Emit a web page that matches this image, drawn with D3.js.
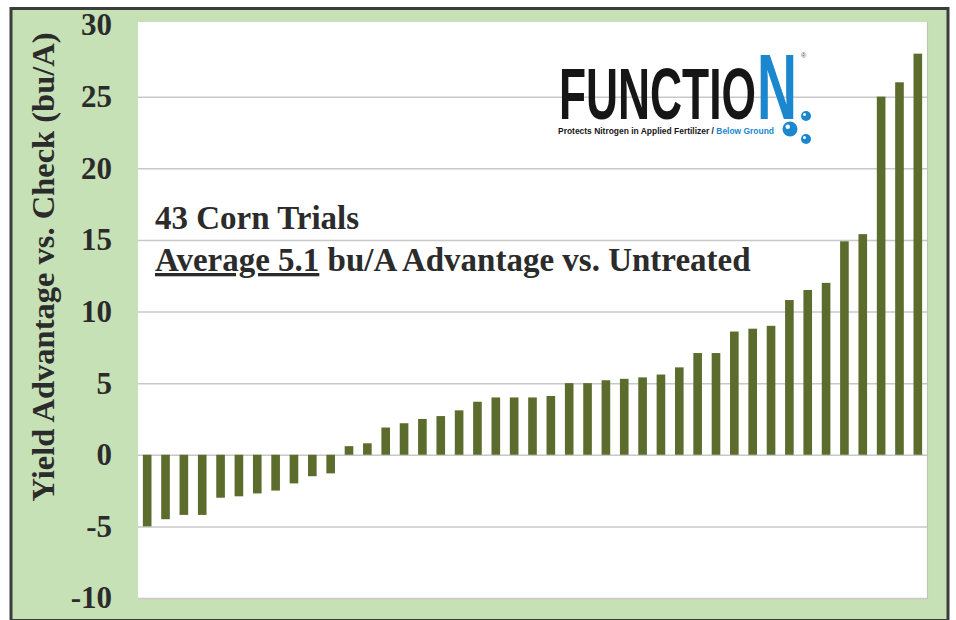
<!DOCTYPE html>
<html>
<head>
<meta charset="utf-8">
<script src="https://cdn.jsdelivr.net/npm/d3@7"></script>
<style>
  html, body { margin: 0; padding: 0; background: #ffffff; }
  svg { display: block; }
</style>
</head>
<body>
<svg id="chart" width="956" height="620"></svg>
<script>
// ---- data ----
const trials = d3.range(1, 44).map(String);
const yieldAdvantage = [
  -5.0, -4.5, -4.2, -4.2, -3.0, -2.9, -2.7, -2.5, -2.0, -1.5, -1.3,
  0.6, 0.8, 1.9, 2.2, 2.5, 2.7, 3.1, 3.7, 4.0, 4.0, 4.0, 4.1,
  5.0, 5.0, 5.2, 5.3, 5.4, 5.6, 6.1, 7.1, 7.1, 8.6, 8.8, 9.0,
  10.8, 11.5, 12.0, 14.9, 15.4, 25.0, 26.0, 28.0
];
const yTicks = [-10, -5, 0, 5, 10, 15, 20, 25, 30];
const yTitle = "Yield Advantage vs. Check (bu/A)";
const noteLine1 = "43 Corn Trials";
const noteLine2a = "Average 5.1";
const noteLine2b = " bu/A Advantage vs. Untreated";

// ---- layout ----
const svg = d3.select("#chart");
const plot = { left: 138, right: 927, top: 22, bottom: 598 };

const x = d3.scaleBand().domain(trials).range([plot.left, plot.right]).paddingInner(0.53).paddingOuter(0.265);
const y = d3.scaleLinear().domain([-10, 30]).range([598, 25]);

// outer frame
svg.append("rect").attr("x", 11).attr("y", 8.5).attr("width", 937).attr("height", 612)
  .attr("fill", "#c6e1b6").attr("stroke", "#3a3d3a").attr("stroke-width", 3);

// plot area
svg.append("rect").attr("x", plot.left).attr("y", plot.top)
  .attr("width", plot.right - plot.left).attr("height", plot.bottom - plot.top)
  .attr("fill", "#ffffff");
svg.append("path")
  .attr("d", `M${plot.left},${plot.bottom + 0.5}H${plot.right + 0.5}V${plot.top}`)
  .attr("fill", "none").attr("stroke", "#b9c8b0").attr("stroke-width", 1.2);

// gridlines
const grid = svg.append("g").attr("transform", `translate(${plot.left},0)`)
  .call(d3.axisLeft(y).tickValues(yTicks.filter(t => t < 30)).tickSize(-(plot.right - plot.left)).tickFormat(""));
grid.select(".domain").remove();
grid.selectAll(".tick line").attr("stroke", "#c8c8c8").attr("stroke-width", 1.5);

// y axis labels
const yAxis = svg.append("g").attr("transform", `translate(${plot.left},0)`)
  .call(d3.axisLeft(y).tickValues(yTicks).tickSize(0).tickPadding(26).tickFormat(d => String(d)));
yAxis.select(".domain").remove();
yAxis.selectAll(".tick text")
  .attr("font-family", "'Liberation Serif', 'Times New Roman', serif")
  .attr("font-weight", "bold").attr("font-size", 31).attr("fill", "#2b2b2b");

// y title
svg.append("text")
  .attr("transform", "translate(54,267) rotate(-90)")
  .attr("text-anchor", "middle")
  .attr("font-family", "'Liberation Serif', 'Times New Roman', serif")
  .attr("font-weight", "bold").attr("font-size", 32.5).attr("fill", "#2b2b2b")
  .text(yTitle);

// bars
svg.append("g").selectAll("rect").data(yieldAdvantage).join("rect")
  .attr("x", (d, i) => x(trials[i]))
  .attr("width", x.bandwidth())
  .attr("y", d => y(Math.max(0, d)))
  .attr("height", d => Math.abs(y(d) - y(0)))
  .attr("fill", "#5b6c2d");

// annotation
const note = svg.append("g")
  .attr("font-family", "'Liberation Serif', 'Times New Roman', serif")
  .attr("font-weight", "bold").attr("font-size", 33).attr("fill", "#2b2b2b");
note.append("text").attr("x", 155).attr("y", 229).text(noteLine1);
const l2 = note.append("text").attr("x", 155).attr("y", 271);
l2.append("tspan").attr("text-decoration", "underline").text(noteLine2a);
l2.append("tspan").text(noteLine2b);

// logo
const logo = svg.append("g");
const blue = "#1b87cf";
logo.append("text").attr("x", 559).attr("y", 119)
  .attr("font-family", "'Liberation Sans Narrow', 'Liberation Sans', Arial, sans-serif")
  .attr("font-weight", "bold").attr("font-size", 73).attr("fill", "#161616")
  .attr("textLength", 197).attr("lengthAdjust", "spacingAndGlyphs")
  .text("FUNCTIO");
logo.append("text").attr("x", 757).attr("y", 119)
  .attr("font-family", "'Liberation Sans Narrow', 'Liberation Sans', Arial, sans-serif")
  .attr("font-weight", "bold").attr("font-size", 92).attr("fill", blue)
  .attr("textLength", 40).attr("lengthAdjust", "spacingAndGlyphs")
  .text("N");
logo.append("text").attr("x", 801).attr("y", 58)
  .attr("font-family", "'Liberation Sans', Arial, sans-serif")
  .attr("font-size", 7).attr("fill", "#555").text("®");
const sub = logo.append("text").attr("x", 558).attr("y", 134)
  .attr("font-family", "'Liberation Sans Narrow', 'Liberation Sans', Arial, sans-serif")
  .attr("font-weight", "bold").attr("font-size", 9)
  .attr("textLength", 216).attr("lengthAdjust", "spacingAndGlyphs");
sub.append("tspan").attr("fill", "#161616").text("Protects Nitrogen in Applied Fertilizer / ");
sub.append("tspan").attr("fill", blue).text("Below Ground");
const bubbles = [[790, 129, 7.5], [806, 116, 5], [806, 139, 5]];
bubbles.forEach(([cx, cy, r]) => {
  logo.append("circle").attr("cx", cx).attr("cy", cy).attr("r", r).attr("fill", blue);
  logo.append("circle").attr("cx", cx - r * 0.3).attr("cy", cy - r * 0.3).attr("r", r * 0.3).attr("fill", "#ffffff");
});
</script>
</body>
</html>
